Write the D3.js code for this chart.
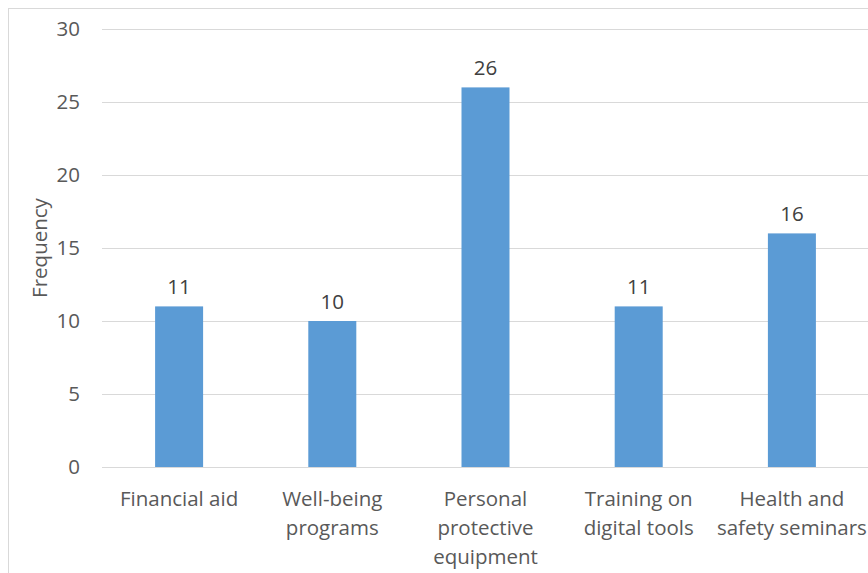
<!DOCTYPE html>
<html><head><meta charset="utf-8">
<script src="https://cdn.jsdelivr.net/npm/d3@7"></script>
<style>body{margin:0;background:#fff;}svg{display:block;}</style>
</head><body>
<svg id="c" width="868" height="573"></svg>
<script>
const categories = [["Financial aid"],["Well-being","programs"],["Personal","protective","equipment"],["Training on","digital tools"],["Health and","safety seminars"]];
const values = [11,10,26,11,16];
const yTicks = [0,5,10,15,20,25,30];
const yLabel = "Frequency";

const svg = d3.select("#c");
const font = "'Open Sans', sans-serif";
const fs = 20.5;
const textColor = "#595959";
svg.append("rect").attr("x",8.5).attr("y",8.5).attr("width",900).attr("height",600)
  .attr("fill","#fff").attr("stroke","#d9d9d9");

const x = d3.scaleBand().domain(d3.range(values.length)).range([102.5,868.5]).paddingInner(0).paddingOuter(0);
const y = d3.scaleLinear().domain([0,30]).range([467,29]);
const barW = 48;

svg.append("g").selectAll("line").data(yTicks).join("line")
  .attr("x1",102).attr("x2",868).attr("y1",d=>Math.round(y(d))+0.5).attr("y2",d=>Math.round(y(d))+0.5)
  .attr("stroke","#d9d9d9").attr("stroke-width",1);

svg.append("g").selectAll("text").data(yTicks).join("text")
  .attr("x",80).attr("y",d=>y(d)).attr("dy","0.35em").attr("text-anchor","end")
  .attr("font-family",font).attr("font-size",fs).attr("fill",textColor).text(d=>d);

svg.append("text").attr("transform","translate(47,248) rotate(-90)").attr("text-anchor","middle")
  .attr("font-family",font).attr("font-size",fs).attr("fill",textColor).text(yLabel);

svg.append("g").selectAll("rect").data(values).join("rect")
  .attr("x",(d,i)=>x(i)+x.bandwidth()/2-barW/2).attr("width",barW)
  .attr("y",d=>y(d)).attr("height",d=>y(0)-y(d)).attr("fill","#5b9bd5");

svg.append("g").selectAll("text").data(values).join("text")
  .attr("x",(d,i)=>x(i)+x.bandwidth()/2).attr("y",d=>y(d)-12)
  .attr("text-anchor","middle").attr("font-family",font).attr("font-size",fs).attr("fill","#404040").text(d=>d);

const xl = svg.append("g").selectAll("text").data(categories).join("text")
  .attr("x",(d,i)=>x(i)+x.bandwidth()/2).attr("y",506)
  .attr("text-anchor","middle").attr("font-family",font).attr("font-size",fs).attr("fill",textColor);
xl.selectAll("tspan").data(d=>d).join("tspan")
  .attr("x",function(){return this.parentNode.getAttribute("x");})
  .attr("dy",(d,j)=>j===0?0:29).text(d=>d);
</script>
</body></html>
